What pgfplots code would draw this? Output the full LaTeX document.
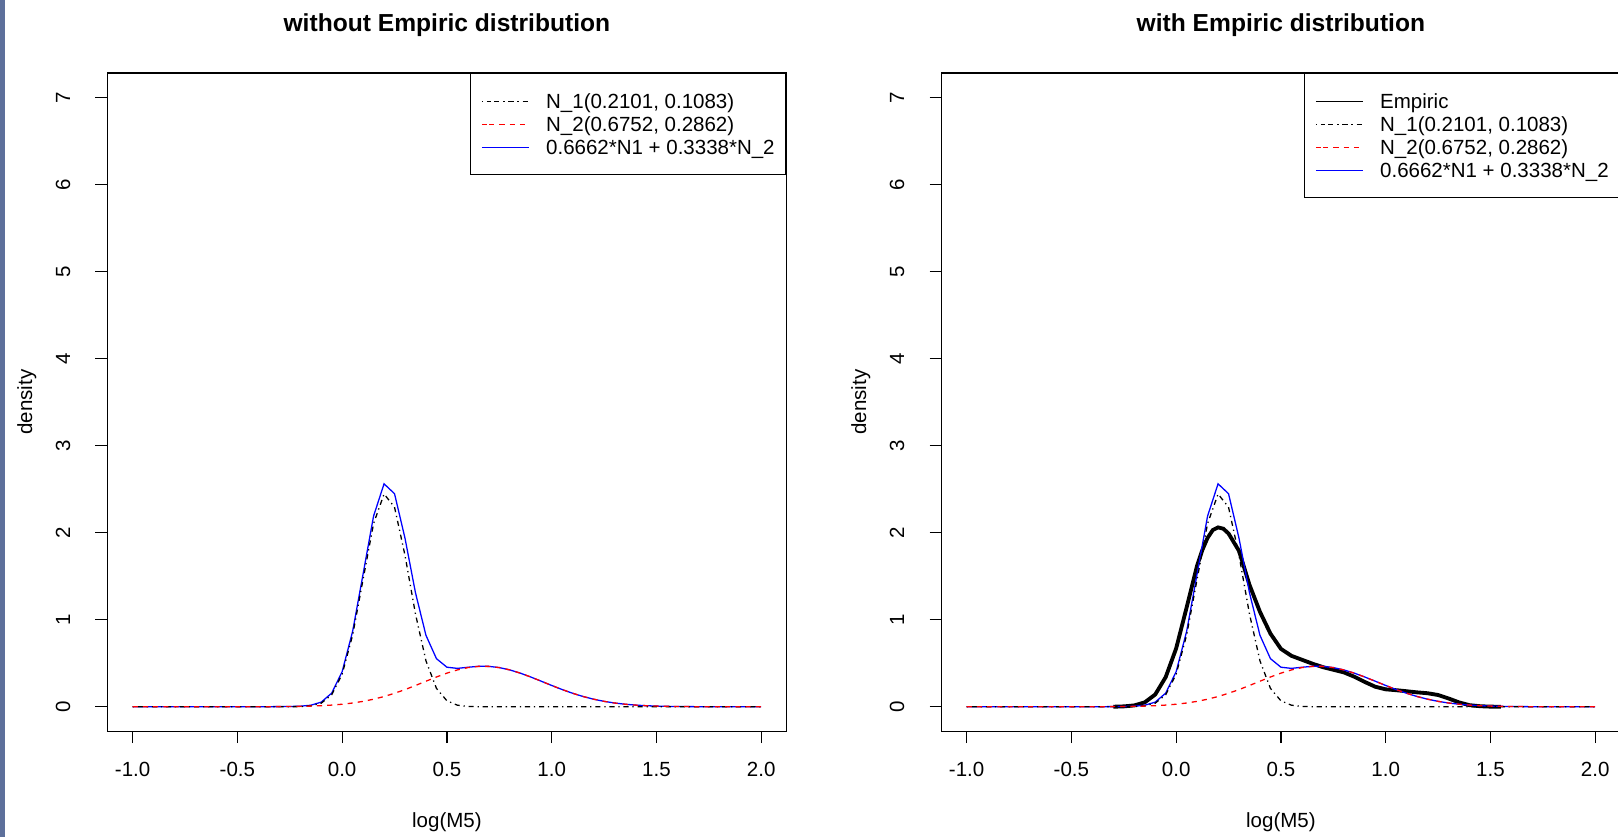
\documentclass[border=0pt]{standalone}
\usepackage{fontspec}
\setmainfont{Liberation Sans}
\usepackage{pgfplots}
\usepackage{pgfplotstable}
\pgfplotsset{compat=1.18}
\definecolor{strip}{RGB}{93,112,155}

\pgfplotstableread{
x n1 n2 mix
-1.00 0 0 0
-0.95 0 0 0
-0.90 0 0 0
-0.85 0 0 0
-0.80 0 0 0
-0.75 0 0 0
-0.70 0 0 0
-0.65 0 0 0
-0.60 0 0 0
-0.55 0 0 0
-0.50 0 0.0001 0.0001
-0.45 0 0.0002 0.0002
-0.40 0 0.0004 0.0004
-0.35 0 0.0008 0.0008
-0.30 0 0.0014 0.0014
-0.25 0.0003 0.0025 0.0028
-0.20 0.0019 0.0043 0.0062
-0.15 0.0098 0.0073 0.0171
-0.10 0.0407 0.0119 0.0526
-0.05 0.1373 0.0188 0.1561
0.00 0.3738 0.0288 0.4026
0.05 0.8229 0.0428 0.8657
0.10 1.4638 0.0617 1.5255
0.15 2.1039 0.0864 2.1903
0.20 2.4434 0.1172 2.5606
0.25 2.2930 0.1543 2.4473
0.30 1.7388 0.1970 1.9358
0.35 1.0654 0.2440 1.3094
0.40 0.5276 0.2931 0.8207
0.45 0.2111 0.3414 0.5525
0.50 0.0682 0.3858 0.4540
0.55 0.0178 0.4228 0.4406
0.60 0.0038 0.4495 0.4533
0.65 0.0006 0.4635 0.4641
0.70 0.0001 0.4636 0.4637
0.75 0 0.4497 0.4497
0.80 0 0.4231 0.4231
0.85 0 0.3861 0.3861
0.90 0 0.3418 0.3418
0.95 0 0.2935 0.2935
1.00 0 0.2444 0.2444
1.05 0 0.1974 0.1974
1.10 0 0.1546 0.1546
1.15 0 0.1175 0.1175
1.20 0 0.0866 0.0866
1.25 0 0.0619 0.0619
1.30 0 0.0429 0.0429
1.35 0 0.0289 0.0289
1.40 0 0.0188 0.0188
1.45 0 0.0119 0.0119
1.50 0 0.0073 0.0073
1.55 0 0.0044 0.0044
1.60 0 0.0025 0.0025
1.65 0 0.0014 0.0014
1.70 0 0.0008 0.0008
1.75 0 0.0004 0.0004
1.80 0 0.0002 0.0002
1.85 0 0.0001 0.0001
1.90 0 0 0
1.95 0 0 0
2.00 0 0 0
}\theo

\pgfplotstableread{
x y
-0.30 0.000
-0.25 0.004
-0.20 0.015
-0.15 0.050
-0.10 0.140
-0.05 0.340
0.00 0.670
0.05 1.140
0.10 1.620
0.125 1.800
0.15 1.940
0.175 2.030
0.20 2.060
0.225 2.045
0.25 1.990
0.275 1.890
0.30 1.790
0.35 1.400
0.40 1.090
0.45 0.840
0.50 0.665
0.55 0.585
0.60 0.540
0.65 0.495
0.70 0.455
0.75 0.425
0.80 0.395
0.85 0.345
0.90 0.285
0.95 0.230
1.00 0.200
1.05 0.190
1.10 0.178
1.15 0.165
1.20 0.155
1.25 0.135
1.30 0.095
1.35 0.050
1.40 0.018
1.45 0.006
1.50 0.001
1.55 0.000
}\emp

\pgfplotsset{
  rplot/.style={
    scale only axis, width=339.4pt, height=329.05pt,
    xmin=-1.12, xmax=2.12, ymin=-0.28, ymax=7.28,
    xtick={-1,-0.5,0,0.5,1,1.5,2},
    xticklabels={-1.0,-0.5,0.0,0.5,1.0,1.5,2.0},
    ytick={0,1,2,3,4,5,6,7},
    yticklabels={0,1,2,3,4,5,6,7},
    tick align=outside, major tick length=6pt,
    xtick pos=bottom, ytick pos=left,
    font=\fontsize{10.25pt}{12pt}\selectfont,
    axis line style={line width=0.6pt},
    every tick/.style={black, line width=0.6pt},
    xticklabel style={anchor=base, yshift=-16.9pt},
    yticklabel style={xshift=-12.65pt, rotate=90, anchor=base},
    xlabel style={at={(axis description cs:0.5,0)}, anchor=base, yshift=-48.2pt},
    ylabel style={at={(axis description cs:-0.119,0.5)}, anchor=center},
    title style={at={(axis description cs:0.5,1)}, anchor=base, yshift=14.65pt,
      font=\bfseries\fontsize{12.3pt}{14pt}\selectfont},
    legend style={
      at={(1,1)}, anchor=north east,
      draw=black, line width=0.6pt, fill=white,
      inner xsep=5.5pt, inner ysep=8pt, row sep=0pt,
      nodes={inner sep=0pt, text height=9.5pt, text depth=2pt, anchor=base west},
      /tikz/every odd column/.append style={column sep=8.5pt},
    },
    legend image code/.code={\path (0pt,3.7pt) -- (3.7pt,3.7pt);
      \draw[##1] (3.7pt,3.7pt) -- (23.35pt,3.7pt);},
  },
  n1style/.style={black, line width=0.64pt, dash pattern=on 0.64pt off 1.92pt on 2.56pt off 1.92pt},
  n2style/.style={red, line width=0.64pt, dash pattern=on 2.56pt off 2.56pt},
  mixstyle/.style={blue, line width=0.64pt},
}

\begin{document}
\begin{tikzpicture}
\useasboundingbox (0,0) rectangle (809pt,418.5pt);
\fill[white] (0,0) rectangle (809pt,418.5pt);
\fill[strip] (0,0) rectangle (2.5pt,418.5pt);

\begin{axis}[rplot, at={(53.75pt,52.95pt)},
  title={without Empiric distribution}, xlabel={log(M5)}, ylabel={density}]
\addplot[mixstyle, forget plot] table[x=x,y=mix]{\theo};
\addplot[n1style] table[x=x,y=n1]{\theo};
\addlegendentry{N\_1(0.2101, 0.1083)}
\addplot[n2style] table[x=x,y=n2]{\theo};
\addlegendentry{N\_2(0.6752, 0.2862)}
\addlegendimage{mixstyle}
\addlegendentry{0.6662*N1 + 0.3338*N\_2}
\end{axis}

\begin{axis}[rplot, at={(470.75pt,52.95pt)},
  title={with Empiric distribution}, xlabel={log(M5)}, ylabel={density}]
\addplot[black, line width=1.92pt, legend image post style={line width=0.64pt}] table[x=x,y=y]{\emp};
\addlegendentry{Empiric}
\addplot[mixstyle, forget plot] table[x=x,y=mix]{\theo};
\addplot[n1style] table[x=x,y=n1]{\theo};
\addlegendentry{N\_1(0.2101, 0.1083)}
\addplot[n2style] table[x=x,y=n2]{\theo};
\addlegendentry{N\_2(0.6752, 0.2862)}
\addlegendimage{mixstyle}
\addlegendentry{0.6662*N1 + 0.3338*N\_2}
\end{axis}
\end{tikzpicture}
\end{document}
